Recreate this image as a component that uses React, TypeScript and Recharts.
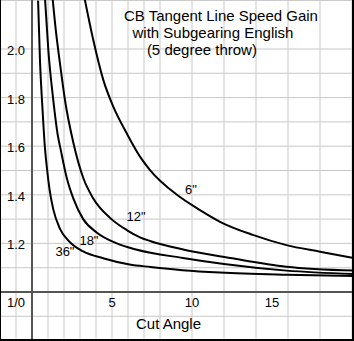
import { LineChart, Line, XAxis, YAxis, CartesianGrid, ReferenceLine, ReferenceDot } from "recharts";

// Curve readings: cut angle (deg) -> speed gain, one list per cue-ball size
const curve6 = [
  { x: 3.25, y: 2.22 }, { x: 3.83, y: 2.037 }, { x: 4.46, y: 1.872 }, { x: 5.08, y: 1.763 },
  { x: 5.92, y: 1.653 }, { x: 6.75, y: 1.557 }, { x: 7.375, y: 1.502 }, { x: 9.06, y: 1.4 },
  { x: 10.5, y: 1.337 }, { x: 11.75, y: 1.289 }, { x: 13.8, y: 1.235 }, { x: 15.9, y: 1.193 },
  { x: 18, y: 1.166 }, { x: 20.1, y: 1.14 },
];
const curve12 = [
  { x: 1.27, y: 2.22 }, { x: 1.5, y: 2.07 }, { x: 1.75, y: 1.94 }, { x: 2.06, y: 1.79 },
  { x: 2.6, y: 1.61 }, { x: 3.2, y: 1.47 }, { x: 3.83, y: 1.385 }, { x: 4.875, y: 1.305 },
  { x: 5.92, y: 1.255 }, { x: 6.75, y: 1.225 }, { x: 7.375, y: 1.21 }, { x: 9.44, y: 1.175 },
  { x: 12.4, y: 1.14 }, { x: 15.9, y: 1.104 }, { x: 20.1, y: 1.088 },
];
const curve18 = [
  { x: 0.8, y: 2.22 }, { x: 1.02, y: 1.996 }, { x: 1.33, y: 1.79 }, { x: 1.6, y: 1.65 },
  { x: 1.8, y: 1.584 }, { x: 2.17, y: 1.47 }, { x: 2.58, y: 1.385 }, { x: 3.2, y: 1.3 },
  { x: 4.04, y: 1.245 }, { x: 5.3, y: 1.2 }, { x: 6.5, y: 1.175 }, { x: 9.44, y: 1.14 },
  { x: 12, y: 1.115 }, { x: 15.9, y: 1.088 }, { x: 20.1, y: 1.074 },
];
const curve36 = [
  { x: 0.37, y: 2.22 }, { x: 0.5, y: 1.95 }, { x: 0.65, y: 1.76 }, { x: 0.8, y: 1.6 },
  { x: 0.95, y: 1.5 }, { x: 1.1, y: 1.42 }, { x: 1.33, y: 1.34 }, { x: 1.75, y: 1.26 },
  { x: 2.375, y: 1.205 }, { x: 3.2, y: 1.167 }, { x: 4.5, y: 1.138 }, { x: 6.1, y: 1.113 },
  { x: 7.4, y: 1.103 }, { x: 9.4, y: 1.09 }, { x: 11.75, y: 1.08 }, { x: 15.9, y: 1.071 },
  { x: 20.1, y: 1.066 },
];

const xGridTicks = [-2, -1, 0, 1, 2, 3, 4, 5, 6, 7, 8, 9, 10, 11, 12, 13, 14, 15, 16, 17, 18, 19, 20];
const yGridTicks = [0.8, 0.9, 1.0, 1.1, 1.2, 1.3, 1.4, 1.5, 1.6, 1.7, 1.8, 1.9, 2.0, 2.1, 2.2];
const xTickLabels = [5, 10, 15];
const yTickLabels = [1.2, 1.4, 1.6, 1.8, 2.0];
const titleLines = ["CB Tangent Line Speed Gain", "with Subgearing English", "(5 degree throw)"];

const FONT = "'Liberation Sans', Arial, sans-serif";

// draws a text centred on the reference point
const textAt = (label: string, size: number, dy = 0) => (props: any) => (
  <text
    x={props.cx}
    y={props.cy + dy}
    textAnchor="middle"
    dominantBaseline="central"
    fontFamily={FONT}
    fontSize={size}
    fill="#000"
  >
    {label}
  </text>
);

export default function App() {
  return (
    <div style={{ position: "fixed", left: 0, top: 0, width: 354, height: 341, background: "#fff" }}>
      <LineChart width={354} height={341} margin={{ top: 0, right: 0, bottom: 0, left: 0 }}>
        <XAxis type="number" dataKey="x" domain={[-2, 20.125]} ticks={xGridTicks} hide allowDataOverflow />
        <YAxis type="number" domain={[0.7984, 2.2016]} ticks={yGridTicks} hide allowDataOverflow />
        <CartesianGrid stroke="#c8c8c8" strokeWidth={1} />
        <ReferenceLine x={0} stroke="#555" strokeWidth={2} />
        <ReferenceLine y={1} stroke="#555" strokeWidth={2} />

        <Line data={curve6} dataKey="y" type="monotone" stroke="#000" strokeWidth={2} dot={false} isAnimationActive={false} />
        <Line data={curve12} dataKey="y" type="monotone" stroke="#000" strokeWidth={2} dot={false} isAnimationActive={false} />
        <Line data={curve18} dataKey="y" type="monotone" stroke="#000" strokeWidth={2} dot={false} isAnimationActive={false} />
        <Line data={curve36} dataKey="y" type="monotone" stroke="#000" strokeWidth={2} dot={false} isAnimationActive={false} />

        {/* tick labels */}
        {xTickLabels.map((t) => (
          <ReferenceDot key={`xt-${t}`} x={t} y={0.955} r={0} shape={textAt(String(t), 13)} />
        ))}
        {yTickLabels.map((t) => (
          <ReferenceDot key={`yt-${t}`} x={-1} y={t} r={0} shape={textAt(t.toFixed(1), 13, 1.5)} />
        ))}
        <ReferenceDot x={-1} y={0.955} r={0} shape={textAt("1/0", 13)} />
        <ReferenceDot x={8.53} y={0.872} r={0} shape={textAt("Cut Angle", 15)} />

        {/* curve labels */}
        <ReferenceDot x={9.94} y={1.42} r={0} shape={textAt("6\"", 13)} />
        <ReferenceDot x={6.5} y={1.309} r={0} shape={textAt("12\"", 13)} />
        <ReferenceDot x={3.56} y={1.214} r={0} shape={textAt("18\"", 13)} />
        <ReferenceDot x={2.06} y={1.165} r={0} shape={textAt("36\"", 13)} />

        {/* title */}
        <ReferenceDot x={11.81} y={2.136} r={0} shape={textAt(titleLines[0], 15)} />
        <ReferenceDot x={11.31} y={2.068} r={0} shape={textAt(titleLines[1], 15)} />
        <ReferenceDot x={10.62} y={1.998} r={0} shape={textAt(titleLines[2], 15)} />
      </LineChart>
      <div
        style={{
          position: "absolute",
          left: 0,
          top: 0,
          width: 351,
          height: 339,
          borderLeft: "1px solid #000",
          borderRight: "2px solid #000",
          borderBottom: "2px solid #000",
          pointerEvents: "none",
        }}
      />
    </div>
  );
}
